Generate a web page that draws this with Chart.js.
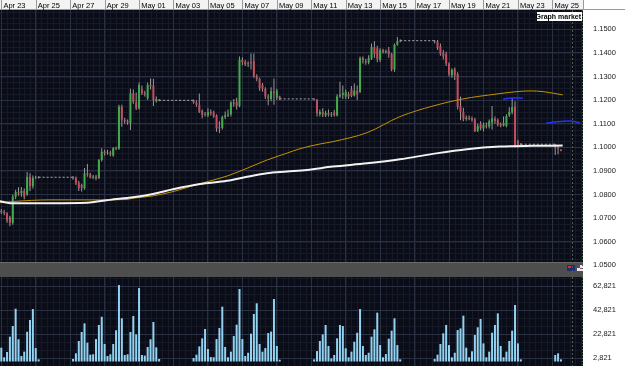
<!DOCTYPE html>
<html>
<head>
<meta charset="utf-8">
<script src="https://cdn.jsdelivr.net/npm/chart.js@4.4.1/dist/chart.umd.min.js"></script>
<style>
  html, body { margin: 0; padding: 0; background: #ffffff; }
  #wrap { position: relative; width: 625px; height: 366px; overflow: hidden; }
  canvas { display: block; position: absolute; left: 0; }
  #price-chart { top: 0; }
  #volume-chart { top: 277px; }
</style>
</head>
<body>
<div id="wrap">
  <canvas id="price-chart" width="625" height="277"></canvas>
  <canvas id="volume-chart" width="625" height="89"></canvas>
</div>
<script>
// Tick labels
const dateLabels = ["Apr 23", "Apr 25", "Apr 27", "Apr 29", "May 01", "May 03", "May 05", "May 07", "May 09",
  "May 11", "May 13", "May 15", "May 17", "May 19", "May 21", "May 23", "May 25"]
const priceTicks = [1.05, 1.06, 1.07, 1.08, 1.09, 1.1, 1.11, 1.12, 1.13, 1.14, 1.15]
const volumeTicks = [2821, 22821, 42821, 62821]

// Trading sessions (4h bars): first bar in days after Apr 23 00:00, and number of bars
const sessionStart = [0, 4.1667, 11.1667, 18.1667, 25.1667, 32.1667]
const sessionBars = [14, 31, 31, 31, 31, 3]

// 4h candles, one row per session
const opens = [
  1.0730, 1.0725, 1.0720, 1.0705, 1.0680, 1.0790, 1.0810, 1.0805, 1.0815, 1.0800, 1.0875, 1.0835, 1.0870, 1.0872,
  1.0873, 1.0870, 1.0850, 1.0840, 1.0826, 1.0890, 1.0885, 1.0872, 1.0876, 1.0870, 1.0946, 1.0981, 1.0975, 1.0978, 1.0965, 1.0996, 1.0994, 1.1172, 1.1116, 1.1110, 1.1102, 1.1229, 1.1190, 1.1165, 1.1245, 1.1230, 1.1208, 1.1264, 1.1262, 1.1195, 1.1202,
  1.1199, 1.1190, 1.1180, 1.1155, 1.1138, 1.1135, 1.1150, 1.1148, 1.1135, 1.1085, 1.1082, 1.1128, 1.1135, 1.1140, 1.1190, 1.1192, 1.1175, 1.1370, 1.1362, 1.1352, 1.1360, 1.1365, 1.1300, 1.1290, 1.1265, 1.1248, 1.1215, 1.1205, 1.1235, 1.1210, 1.1215,
  1.1205, 1.1200, 1.1140, 1.1150, 1.1135, 1.1145, 1.1138, 1.1148, 1.1135, 1.1215, 1.1222, 1.1215, 1.1225, 1.1245, 1.1220, 1.1240, 1.1235, 1.1378, 1.1365, 1.1360, 1.1375, 1.1425, 1.1420, 1.1370, 1.1412, 1.1405, 1.1410, 1.1395, 1.1330, 1.1435, 1.1450,
  1.1450, 1.1448, 1.1428, 1.1398, 1.1395, 1.1355, 1.1305, 1.1330, 1.1310, 1.1175, 1.1150, 1.1120, 1.1125, 1.1122, 1.1118, 1.1070, 1.1098, 1.1080, 1.1092, 1.1088, 1.1105, 1.1120, 1.1115, 1.1098, 1.1092, 1.1090, 1.1135, 1.1148, 1.1172, 1.1025, 1.1010,
  1.1012, 1.1000, 1.0990,
]
const highs = [
  1.0738, 1.0735, 1.0725, 1.0710, 1.0800, 1.0820, 1.0830, 1.0832, 1.0825, 1.0895, 1.0890, 1.0880, 1.0878, 1.0877,
  1.0878, 1.0876, 1.0858, 1.0845, 1.0912, 1.0929, 1.0892, 1.0882, 1.0884, 1.0950, 1.0996, 1.0990, 1.0990, 1.0985, 1.1000, 1.1002, 1.1180, 1.1180, 1.1125, 1.1118, 1.1248, 1.1245, 1.1232, 1.1275, 1.1262, 1.1240, 1.1275, 1.1292, 1.1290, 1.1215, 1.1205,
  1.1203, 1.1198, 1.1228, 1.1160, 1.1150, 1.1165, 1.1160, 1.1155, 1.1140, 1.1110, 1.1135, 1.1152, 1.1160, 1.1195, 1.1205, 1.1210, 1.1385, 1.1382, 1.1370, 1.1365, 1.1398, 1.1398, 1.1310, 1.1295, 1.1272, 1.1255, 1.1225, 1.1255, 1.1292, 1.1248, 1.1218,
  1.1208, 1.1205, 1.1160, 1.1165, 1.1155, 1.1160, 1.1150, 1.1158, 1.1225, 1.1278, 1.1262, 1.1245, 1.1235, 1.1260, 1.1270, 1.1262, 1.1385, 1.1385, 1.1375, 1.1390, 1.1440, 1.1450, 1.1430, 1.1420, 1.1418, 1.1415, 1.1425, 1.1400, 1.1440, 1.1467, 1.1458,
  1.1455, 1.1455, 1.1440, 1.1412, 1.1405, 1.1360, 1.1335, 1.1338, 1.1318, 1.1215, 1.1168, 1.1135, 1.1135, 1.1130, 1.1125, 1.1100, 1.1110, 1.1105, 1.1105, 1.1118, 1.1175, 1.1130, 1.1122, 1.1105, 1.1130, 1.1140, 1.1170, 1.1207, 1.1195, 1.1032, 1.1018,
  1.1015, 1.1010, 1.0992,
]
const lows = [
  1.0718, 1.0712, 1.0680, 1.0665, 1.0672, 1.0780, 1.0795, 1.0790, 1.0780, 1.0795, 1.0815, 1.0825, 1.0865, 1.0868,
  1.0862, 1.0840, 1.0815, 1.0813, 1.0820, 1.0875, 1.0868, 1.0866, 1.0860, 1.0866, 1.0940, 1.0965, 1.0968, 1.0962, 1.0960, 1.0988, 1.0990, 1.1087, 1.1100, 1.1095, 1.1073, 1.1185, 1.1158, 1.1160, 1.1222, 1.1215, 1.1200, 1.1245, 1.1175, 1.1190, 1.1195,
  1.1185, 1.1172, 1.1145, 1.1123, 1.1130, 1.1128, 1.1135, 1.1125, 1.1066, 1.1060, 1.1075, 1.1120, 1.1128, 1.1130, 1.1172, 1.1160, 1.1170, 1.1348, 1.1345, 1.1340, 1.1330, 1.1295, 1.1280, 1.1240, 1.1235, 1.1205, 1.1178, 1.1195, 1.1180, 1.1200, 1.1200,
  1.1198, 1.1130, 1.1130, 1.1128, 1.1128, 1.1130, 1.1128, 1.1130, 1.1130, 1.1210, 1.1205, 1.1205, 1.1205, 1.1212, 1.1215, 1.1200, 1.1230, 1.1355, 1.1350, 1.1352, 1.1370, 1.1380, 1.1360, 1.1362, 1.1398, 1.1398, 1.1380, 1.1322, 1.1320, 1.1430, 1.1445,
  1.1440, 1.1412, 1.1388, 1.1372, 1.1345, 1.1300, 1.1295, 1.1285, 1.1160, 1.1115, 1.1110, 1.1112, 1.1115, 1.1108, 1.1065, 1.1065, 1.1072, 1.1068, 1.1080, 1.1080, 1.1075, 1.1100, 1.1088, 1.1085, 1.1088, 1.1085, 1.1128, 1.1140, 1.0998, 1.0998, 1.1005,
  1.0967, 1.0970, 1.0983,
]
const closes = [
  1.0725, 1.0720, 1.0690, 1.0680, 1.0790, 1.0810, 1.0805, 1.0815, 1.0790, 1.0875, 1.0835, 1.0870, 1.0872, 1.0873,
  1.0868, 1.0848, 1.0826, 1.0828, 1.0890, 1.0885, 1.0872, 1.0876, 1.0868, 1.0946, 1.0981, 1.0975, 1.0978, 1.0970, 1.0996, 1.0994, 1.1172, 1.1116, 1.1110, 1.1105, 1.1229, 1.1193, 1.1165, 1.1264, 1.1230, 1.1225, 1.1264, 1.1260, 1.1200, 1.1205, 1.1199,
  1.1190, 1.1180, 1.1150, 1.1138, 1.1140, 1.1150, 1.1145, 1.1130, 1.1080, 1.1080, 1.1128, 1.1135, 1.1140, 1.1190, 1.1185, 1.1175, 1.1372, 1.1360, 1.1352, 1.1355, 1.1355, 1.1300, 1.1290, 1.1250, 1.1248, 1.1215, 1.1208, 1.1238, 1.1230, 1.1240, 1.1205,
  1.1203, 1.1145, 1.1150, 1.1140, 1.1145, 1.1138, 1.1140, 1.1135, 1.1215, 1.1222, 1.1230, 1.1235, 1.1215, 1.1218, 1.1240, 1.1225, 1.1378, 1.1370, 1.1360, 1.1378, 1.1425, 1.1395, 1.1375, 1.1412, 1.1405, 1.1408, 1.1395, 1.1330, 1.1435, 1.1450, 1.1452,
  1.1448, 1.1420, 1.1395, 1.1385, 1.1355, 1.1310, 1.1328, 1.1305, 1.1172, 1.1150, 1.1120, 1.1125, 1.1120, 1.1115, 1.1068, 1.1090, 1.1080, 1.1095, 1.1088, 1.1110, 1.1122, 1.1112, 1.1095, 1.1092, 1.1102, 1.1132, 1.1150, 1.1170, 1.1005, 1.1010, 1.1013,
  1.1000, 1.0995, 1.0985,
]
const volumes = [
  11500, 3500, 7900, 20700, 29600, 44000, 18500, 4600, 8200, 24800, 34600, 43700, 11200, 1800,
  2100, 6800, 17100, 24600, 31800, 15700, 5700, 6000, 18700, 30400, 37300, 14600, 4600, 6000, 14600, 26000, 63700, 36000, 5400, 6000, 24600, 37900, 22600, 61200, 5400, 4900, 12100, 18500, 32900, 11800, 2100,
  2900, 5700, 12600, 19300, 27100, 10400, 3700, 3500, 18700, 27900, 45700, 12100, 3500, 8200, 21200, 30700, 60400, 18700, 4600, 7300, 23200, 39600, 48500, 14600, 8200, 11200, 23700, 24900, 52100, 12900, 1500,
  1800, 8700, 17100, 22600, 30400, 12900, 2600, 5400, 19300, 30400, 29600, 11000, 3500, 8200, 16500, 24000, 43700, 12900, 5400, 7300, 20700, 26800, 40700, 13700, 3500, 6200, 19000, 25700, 36000, 13700, 1800,
  2100, 5700, 14600, 23500, 30400, 13700, 3500, 7300, 26200, 27600, 38200, 11500, 3500, 8500, 22100, 28500, 35400, 15100, 3500, 8200, 24000, 30400, 40100, 12900, 3500, 8200, 17100, 25700, 47100, 15100, 1800,
  5400, 6800, 1800,
]

// Moving averages (days, price)
const slowMaDays = [-0.08, 0.51, 2.83, 4.98, 5.56, 6.31, 7.65, 8.81, 9.97, 11.54, 13.11, 14.27, 15.43, 16.59, 17.75, 19.26, 21.24, 23.15, 25.07, 27.04, 28.96, 30.88, 32.6]
const slowMaValues = [1.0771, 1.0763, 1.0763, 1.0765, 1.0770, 1.0777, 1.0788, 1.0802, 1.0822, 1.0844, 1.0858, 1.0875, 1.0890, 1.0897, 1.0904, 1.0918, 1.0932, 1.0949, 1.0972, 1.0992, 1.1003, 1.1006, 1.1007]
const fastMaDays = [-0.08, 0.68, 2.83, 5.73, 7.3, 7.65, 8.81, 9.97, 11.13, 11.95, 13.11, 14.27, 15.43, 16.59, 17.35, 18.51, 19.26, 21.24, 23.15, 25.07, 26.81, 28.79, 29.95, 30.7, 31.46, 32.6]
const fastMaValues = [1.0765, 1.0770, 1.0777, 1.0777, 1.0779, 1.0784, 1.0794, 1.0812, 1.0837, 1.0854, 1.0878, 1.0911, 1.0946, 1.0975, 1.0994, 1.1014, 1.1024, 1.1062, 1.1130, 1.1175, 1.1205, 1.1226, 1.1236, 1.1239, 1.1236, 1.1222]
const upperBlueDays = [29.15, 29.64, 30.28]
const upperBlueValues = [1.1204, 1.1209, 1.1208]
const lowerBlueDays = [31.63, 32.25, 33.02, 33.61]
const lowerBlueValues = [1.1102, 1.1108, 1.1111, 1.1104]

const xMin = -0.075
const xMax = 33.78
const cursorDay = 33.14

// bar times from the sessions
const barDays = []
sessionStart.forEach((start, i) => {
  for (let k = 0; k < sessionBars[i]; k++) barDays.push(start + k / 6)
})

Chart.defaults.font.family = '"Liberation Sans", Arial, sans-serif'
Chart.defaults.font.size = 7.5
Chart.defaults.color = "#111111"

const BG = "#0a0d17"
const MAJOR = "#283041"
const MINOR = "#151a26"

// dark panel, white axis column and minor grid
const panelBackground = {
  id: "panelBackground",
  beforeDraw(chart, args, opts) {
    const { ctx, chartArea: a, scales } = chart
    ctx.save()
    ctx.fillStyle = "#ffffff"
    ctx.fillRect(0, 0, chart.width, chart.height)
    ctx.fillStyle = BG
    ctx.fillRect(a.left, a.top, a.right - a.left, a.bottom - a.top)

    ctx.strokeStyle = MINOR
    ctx.lineWidth = 1
    ctx.beginPath()
    for (let d = 0; d < xMax; d += 1 / 3) {
      const px = Math.round(scales.x.getPixelForValue(d)) + 0.5
      ctx.moveTo(px, a.top)
      ctx.lineTo(px, a.bottom)
    }
    const y = scales.y
    for (let v = opts.minorFrom; v < y.max; v += opts.minorStep) {
      if (v < y.min) continue
      const py = Math.round(y.getPixelForValue(v)) + 0.5
      ctx.moveTo(a.left, py)
      ctx.lineTo(a.right, py)
    }
    for (let v = opts.minorFrom - opts.minorStep; v > y.min; v -= opts.minorStep) {
      const py = Math.round(y.getPixelForValue(v)) + 0.5
      ctx.moveTo(a.left, py)
      ctx.lineTo(a.right, py)
    }
    ctx.stroke()

    // date strip
    if (opts.header) {
      ctx.fillStyle = "#f3f3f3"
      ctx.fillRect(0, 0, chart.width, a.top)
      ctx.strokeStyle = "#9a9a9a"
      ctx.beginPath()
      ctx.moveTo(0, a.top - 0.5)
      ctx.lineTo(chart.width, a.top - 0.5)
      scales.x.ticks.forEach((t) => {
        const px = Math.round(scales.x.getPixelForValue(t.value)) + 0.5
        ctx.moveTo(px, 0)
        ctx.lineTo(px, a.top)
      })
      ctx.moveTo(a.right + 0.5, 0)
      ctx.lineTo(a.right + 0.5, a.top)
      ctx.stroke()
      ctx.fillStyle = "#ffffff"
      ctx.fillRect(a.right + 1, 0, chart.width - a.right - 1, a.top - 1)
    }
    ctx.restore()
  },
  afterDraw(chart, args, opts) {
    const { ctx, chartArea: a, scales } = chart
    ctx.save()
    if (opts.band) {
      ctx.fillStyle = "#4e4e4e"
      ctx.fillRect(a.left, 262, a.right - a.left, 15)
      ctx.fillStyle = "#6a6a6a"
      ctx.fillRect(a.left, 262, a.right - a.left, 1)
      // flags
      ctx.fillStyle = "#1c2c78"
      ctx.fillRect(567, 265, 8, 6)
      ctx.fillStyle = "#d03030"
      ctx.fillRect(568, 266, 3, 2)
      ctx.fillStyle = "#e8e8f4"
      ctx.fillRect(577, 265, 6, 6)
      ctx.fillStyle = "#3050b0"
      ctx.fillRect(577, 265, 3, 3)
      ctx.fillStyle = "#d04040"
      ctx.fillRect(580, 268, 3, 1)
    }
    // cursor line and right border
    ctx.strokeStyle = "#4d5e4d"
    ctx.lineWidth = 1
    ctx.setLineDash([2, 2])
    const cx = Math.round(scales.x.getPixelForValue(cursorDay)) + 0.5
    ctx.beginPath()
    ctx.moveTo(cx, a.top)
    ctx.lineTo(cx, a.bottom)
    ctx.stroke()
    ctx.strokeStyle = "#3f6a44"
    ctx.setLineDash([1, 2])
    ctx.beginPath()
    ctx.moveTo(a.right - 0.5, a.top)
    ctx.lineTo(a.right - 0.5, a.bottom)
    ctx.stroke()
    ctx.setLineDash([])

    if (opts.label) {
      ctx.fillStyle = "#ffffff"
      ctx.fillRect(537, 12, 45, 9)
      ctx.fillStyle = "#000000"
      ctx.font = 'bold 7px "Liberation Sans", Arial, sans-serif'
      ctx.textBaseline = "middle"
      ctx.textAlign = "right"
      ctx.fillText(opts.label, 581, 16.8)
    }
    ctx.restore()
  },
}

function xScale(showLabels) {
  return {
    type: "linear",
    position: "top",
    min: xMin,
    max: xMax,
    offset: false,
    afterBuildTicks: (axis) => {
      axis.ticks = dateLabels.map((_, i) => ({ value: i * 2 }))
    },
    afterFit: (axis) => {
      axis.height = showLabels ? 10 : 0
      axis.paddingLeft = 0
      axis.paddingRight = 0
    },
    ticks: {
      display: showLabels,
      autoSkip: false,
      maxRotation: 0,
      align: "start",
      padding: 0,
      color: "#000000",
      callback: (v) => " " + dateLabels[Math.round(v / 2)],
    },
    grid: { color: MAJOR, drawTicks: false, offset: false },
    border: { display: false },
  }
}

function rightScale(min, max, ticks, format) {
  return {
    type: "linear",
    position: "right",
    min: min,
    max: max,
    beginAtZero: false,
    afterBuildTicks: (axis) => {
      axis.ticks = ticks.map((v) => ({ value: v }))
    },
    afterFit: (axis) => {
      axis.width = 42
      axis.paddingTop = 0
      axis.paddingBottom = 0
    },
    ticks: { padding: 10, color: "#1a1a1a", callback: format },
    grid: { color: MAJOR, drawTicks: false },
    border: { display: false },
  }
}

const lineStyle = { type: "line", pointRadius: 0, cubicInterpolationMode: "monotone", order: 1 }

const gapLines = sessionStart.slice(1).map((start, i) => {
  let last = -1
  for (let j = 0; j <= i; j++) last += sessionBars[j]
  return {
    type: "line",
    data: [{ x: barDays[last], y: closes[last] }, { x: start, y: closes[last] }],
    borderColor: "#a8a8a8",
    borderWidth: 1,
    borderDash: [2, 2],
    pointRadius: 0,
    order: 1,
  }
})

new Chart(document.getElementById("price-chart"), {
  type: "bar",
  data: {
    datasets: [
      {
        ...lineStyle,
        data: slowMaDays.map((d, i) => ({ x: d, y: slowMaValues[i] })),
        borderColor: "#f2f2f2",
        borderWidth: 2,
      },
      {
        ...lineStyle,
        data: fastMaDays.map((d, i) => ({ x: d, y: fastMaValues[i] })),
        borderColor: "#c29204",
        borderWidth: 1,
      },
      {
        ...lineStyle,
        data: upperBlueDays.map((d, i) => ({ x: d, y: upperBlueValues[i] })),
        borderColor: "#2233ff",
        borderWidth: 1.5,
      },
      {
        ...lineStyle,
        data: lowerBlueDays.map((d, i) => ({ x: d, y: lowerBlueValues[i] })),
        borderColor: "#2233ff",
        borderWidth: 1.5,
      },
      ...gapLines,
      {
        type: "bar",
        data: barDays.map((d, i) => ({ x: d, y: [opens[i], closes[i]] })),
        backgroundColor: barDays.map((d, i) => (closes[i] >= opens[i] ? "#44ab4c" : "#c44d5e")),
        barThickness: 2,
        inflateAmount: 0,
        grouped: false,
        borderWidth: 0,
        order: 2,
      },
      {
        type: "bar",
        data: barDays.map((d, i) => ({ x: d, y: [lows[i], highs[i]] })),
        backgroundColor: "#9a9a9a",
        barThickness: 1,
        inflateAmount: 0,
        grouped: false,
        borderWidth: 0,
        order: 3,
      },
    ],
  },
  options: {
    responsive: false,
    animation: false,
    events: [],
    layout: { padding: 0, autoPadding: false },
    plugins: {
      legend: { display: false },
      tooltip: { enabled: false },
      panelBackground: { minorFrom: 1.05, minorStep: 0.0025, header: true, band: true, label: "Graph market" },
    },
    scales: {
      x: xScale(true),
      y: rightScale(1.045, 1.1582, priceTicks, (v) => v.toFixed(4)),
    },
  },
  plugins: [panelBackground],
})

new Chart(document.getElementById("volume-chart"), {
  type: "bar",
  data: {
    datasets: [
      {
        data: barDays.map((d, i) => ({ x: d, y: volumes[i] })),
        backgroundColor: "#92d3f3",
        barThickness: 2,
        inflateAmount: 0,
        borderWidth: 0,
      },
    ],
  },
  options: {
    responsive: false,
    animation: false,
    events: [],
    layout: { padding: 0, autoPadding: false },
    plugins: {
      legend: { display: false },
      tooltip: { enabled: false },
      panelBackground: { minorFrom: 2821, minorStep: 20000 / 3 },
    },
    scales: {
      x: xScale(false),
      y: rightScale(-3750, 70417, volumeTicks, (v) => v.toLocaleString("en-US")),
    },
  },
  plugins: [panelBackground],
})
</script>
</body>
</html>
